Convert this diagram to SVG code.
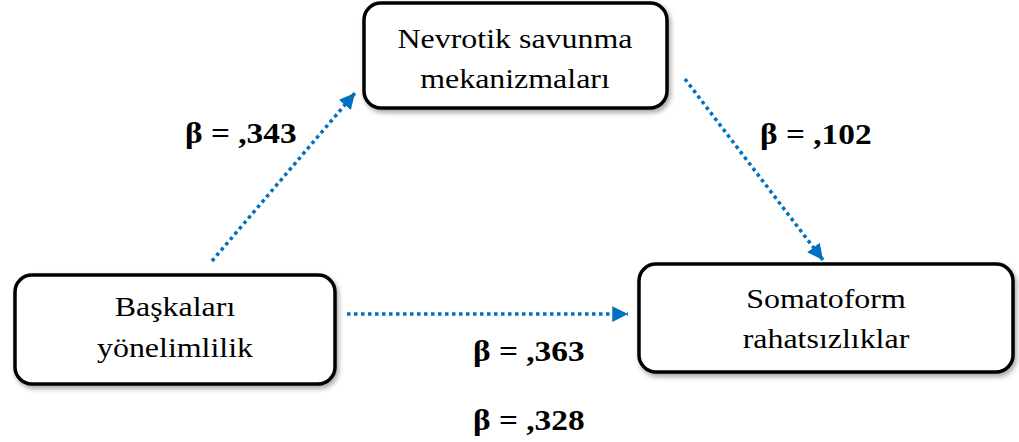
<svg xmlns="http://www.w3.org/2000/svg" width="1019" height="442" viewBox="0 0 1019 442">
  <style>
    .box { fill: #ffffff; stroke: #000000; stroke-width: 3.5; filter: url(#shadow); }
    .node-text { font-family: "Liberation Serif", "Times New Roman", serif; font-size: 28px; fill: #000000; text-anchor: middle; }
    .beta { font-family: "Liberation Serif", "Times New Roman", serif; font-size: 29px; font-weight: bold; fill: #000000; }
    .link { fill: none; stroke: #0070C0; stroke-width: 3.5; stroke-dasharray: 3.5 3.5; }
  </style>
  <defs>
    <filter id="shadow" x="-10%" y="-10%" width="125%" height="135%">
      <feDropShadow dx="2" dy="3" stdDeviation="2.5" flood-color="#000000" flood-opacity="0.35"/>
    </filter>
    <marker id="arrow" viewBox="0 0 10 10" refX="10" refY="5" markerWidth="4.5" markerHeight="4.5" orient="auto" markerUnits="strokeWidth">
      <path d="M0,0 L10,5 L0,10 Z" fill="#0070C0"/>
    </marker>
  </defs>

  <rect width="1019" height="442" fill="#ffffff"/>

  <g id="connectors">
    <line class="link" x1="212" y1="261" x2="355" y2="93" marker-end="url(#arrow)"/>
    <line class="link" x1="685" y1="79" x2="823" y2="260" marker-end="url(#arrow)"/>
    <line class="link" x1="347" y1="314" x2="628" y2="314" marker-end="url(#arrow)"/>
  </g>

  <!-- text is drawn slightly wide: 1.14 horizontal scale -->
  <g id="node-baskalari">
    <rect class="box" x="15" y="275" width="320" height="109" rx="17"/>
    <g transform="translate(175,0) scale(1.14,1)">
      <text class="node-text" x="0" y="316">Başkaları</text>
      <text class="node-text" x="0" y="357">yönelimlilik</text>
    </g>
  </g>

  <g id="node-nevrotik">
    <rect class="box" x="364" y="3" width="303" height="105" rx="17"/>
    <g transform="translate(515,0) scale(1.14,1)">
      <text class="node-text" x="0" y="48">Nevrotik savunma</text>
      <text class="node-text" x="0" y="88">mekanizmaları</text>
    </g>
  </g>

  <g id="node-somatoform">
    <rect class="box" x="639" y="264" width="374" height="108" rx="17"/>
    <g transform="translate(826,0) scale(1.14,1)">
      <text class="node-text" x="0" y="308">Somatoform</text>
      <text class="node-text" x="0" y="348">rahatsızlıklar</text>
    </g>
  </g>

  <g id="labels">
    <text class="beta" transform="translate(185,143) scale(1.15,1)">β = ,343</text>
    <text class="beta" transform="translate(760,144) scale(1.15,1)">β = ,102</text>
    <text class="beta" transform="translate(473,361) scale(1.15,1)">β = ,363</text>
    <text class="beta" transform="translate(473,430) scale(1.15,1)">β = ,328</text>
  </g>
</svg>
